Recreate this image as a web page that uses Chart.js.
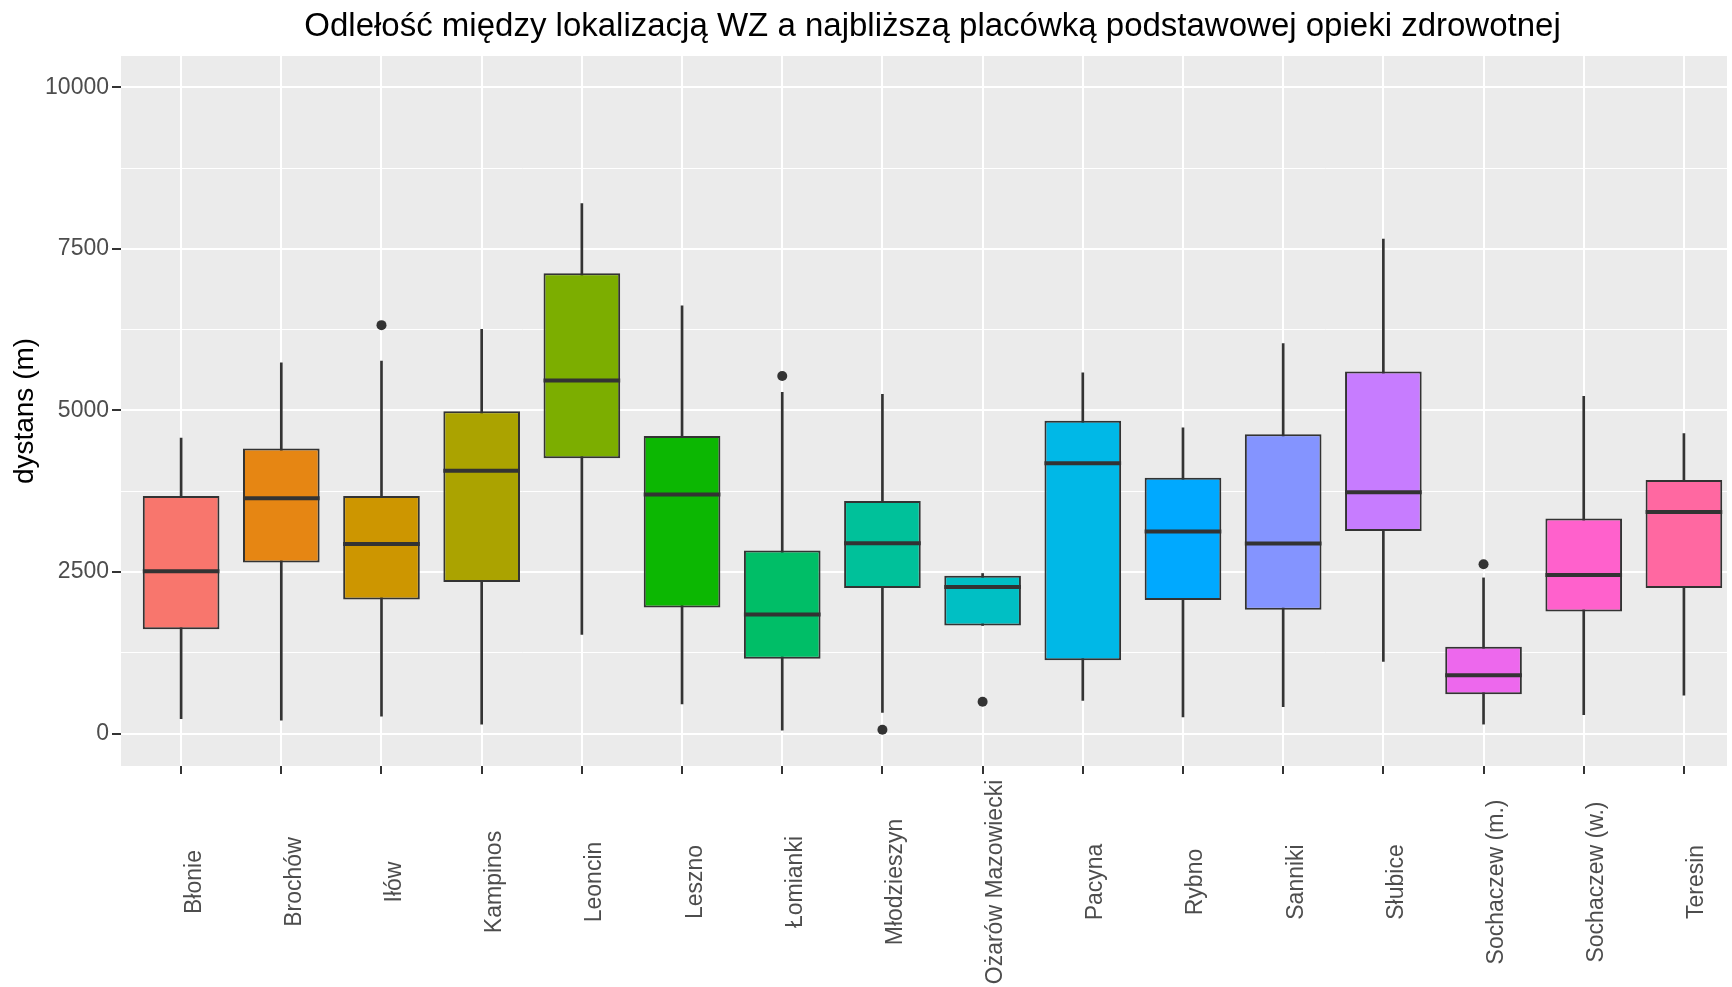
<!DOCTYPE html>
<html>
<head>
<meta charset="utf-8">
<script src="https://cdn.jsdelivr.net/npm/chart.js@4"></script>
<style>
  body { margin: 0; background: #fff; overflow: hidden; }
  #wrap { width: 1732px; height: 987px; }
</style>
</head>
<body>
<div id="wrap"><canvas id="boxChart"></canvas></div>
<script>
const categories = ["Błonie", "Brochów", "Iłów", "Kampinos", "Leoncin", "Leszno", "Łomianki", "Młodzieszyn",
  "Ożarów Mazowiecki", "Pacyna", "Rybno", "Sanniki", "Słubice", "Sochaczew (m.)", "Sochaczew (w.)", "Teresin"];
const whiskerLow  = [232, 206, 268, 144, 1536, 457, 54, 327, 1672, 511, 259, 418, 1116, 146, 294, 596];
const q1          = [1615, 2647, 2074, 2347, 4262, 1950, 1156, 2252, 1672, 1133, 2065, 1916, 3136, 608, 1887, 2254];
const median      = [2512, 3643, 2935, 4065, 5463, 3698, 1844, 2946, 2269, 4184, 3125, 2941, 3735, 904, 2455, 3427];
const q3          = [3678, 4412, 3678, 4989, 7122, 4604, 2833, 3598, 2441, 4841, 3960, 4630, 5602, 1342, 3327, 3924];
const whiskerHigh = [4571, 5737, 5763, 6254, 8200, 6618, 5280, 5249, 2477, 5582, 4731, 6034, 7652, 2409, 5217, 4642];
const outlierCategory = ["Iłów", "Łomianki", "Młodzieszyn", "Ożarów Mazowiecki", "Sochaczew (m.)"];
const outlierValue = [6320, 5534, 60, 492, 2621];
const yTicks = [0, 1250, 2500, 3750, 5000, 6250, 7500, 8750, 10000];
const boxColors = ["#F8766D", "#E68613", "#CD9600", "#ABA300", "#7CAE00", "#0CB702", "#00BE67", "#00C19A",
  "#00BFC4", "#00B8E7", "#00A9FF", "#8494FF", "#C77CFF", "#ED68ED", "#FF61CC", "#FF68A1"];

const FONT = "'Liberation Sans', Arial, sans-serif";
const isMajor = v => v % 2500 === 0;

// ggplot-like panel, medians, title and centred rotated labels
const ggExtras = {
  id: "ggExtras",
  beforeDraw(chart) {
    const { ctx, chartArea: a } = chart;
    ctx.save();
    ctx.fillStyle = "#EBEBEB";
    ctx.fillRect(a.left, a.top, a.right - a.left, a.bottom - a.top);
    ctx.restore();
  },
  afterDatasetsDraw(chart) {
    const { ctx } = chart;
    const y = chart.scales.y;
    const meta = chart.getDatasetMeta(1);
    ctx.save();
    ctx.strokeStyle = "#333333";
    ctx.lineWidth = 4;
    meta.data.forEach((bar, i) => {
      const py = y.getPixelForValue(median[i]);
      ctx.beginPath();
      ctx.moveTo(bar.x - bar.width / 2, py);
      ctx.lineTo(bar.x + bar.width / 2, py);
      ctx.stroke();
    });
    ctx.restore();
  },
  afterDraw(chart) {
    const { ctx, chartArea: a } = chart;
    const x = chart.scales.x;
    ctx.save();
    ctx.fillStyle = "#000";
    ctx.font = "33px " + FONT;
    ctx.textAlign = "center";
    ctx.textBaseline = "middle";
    ctx.fillText("Odlełość między lokalizacją WZ a najbliższą placówką podstawowej opieki zdrowotnej",
      (a.left + x.getPixelForValue(categories.length - 0.4)) / 2, 27);

    ctx.fillStyle = "#4D4D4D";
    ctx.font = "23px " + FONT;
    categories.forEach((c, i) => {
      ctx.save();
      ctx.translate(x.getPixelForValue(i) + 19.5, 882);
      ctx.rotate(-Math.PI / 2);
      ctx.textAlign = "center";
      ctx.textBaseline = "alphabetic";
      ctx.fillText(c, 0, 0);
      ctx.restore();
    });
    ctx.restore();
  }
};

new Chart("boxChart", {
  type: "bar",
  data: {
    datasets: [{
      type: "line",
      data: outlierCategory.map((c, i) => ({ x: categories.indexOf(c), y: outlierValue[i] })),
      showLine: false,
      pointRadius: 5,
      pointBackgroundColor: "#333333",
      pointBorderWidth: 0,
      order: 0
    }, {
      data: categories.map((c, i) => ({ x: i, y: [q1[i], q3[i]] })),
      backgroundColor: boxColors,
      borderColor: "#333333",
      borderWidth: 2,
      borderSkipped: false,
      grouped: false,
      barPercentage: 0.765,
      categoryPercentage: 1,
      order: 1
    }, {
      data: categories.map((c, i) => ({ x: i, y: [whiskerLow[i], whiskerHigh[i]] })),
      backgroundColor: "#333333",
      borderWidth: 0,
      grouped: false,
      barThickness: 2,
      order: 2
    }]
  },
  options: {
    responsive: true,
    maintainAspectRatio: false,
    animation: false,
    layout: { padding: { top: 56, left: 0, right: 0, bottom: 0 } },
    plugins: { legend: { display: false }, tooltip: { enabled: false }, title: { display: false } },
    scales: {
      x: {
        type: "linear",
        offset: false,
        min: -0.6,
        max: 15.43,
        afterBuildTicks: s => { s.ticks = categories.map((c, i) => ({ value: i })); },
        afterFit: s => { s.height = 221; },
        ticks: { display: false },
        grid: { color: "#FFFFFF", lineWidth: 2, tickColor: "#333333", tickLength: 8, tickWidth: 2, offset: false },
        border: { display: false }
      },
      y: {
        min: -502,
        max: 10485,
        afterBuildTicks: s => { s.ticks = yTicks.map(v => ({ value: v })); },
        afterFit: s => { s.width = 121; },
        ticks: {
          autoSkip: false,
          callback: v => isMajor(v) ? String(v) : "",
          font: { size: 23, family: FONT },
          color: "#4D4D4D",
          padding: 3
        },
        grid: {
          color: "#FFFFFF",
          lineWidth: c => (c.tick && isMajor(c.tick.value)) ? 2 : 1,
          tickColor: c => (c.tick && isMajor(c.tick.value)) ? "#333333" : "rgba(0,0,0,0)",
          tickLength: 9,
          tickWidth: 2
        },
        border: { display: false },
        title: {
          display: true,
          text: "dystans (m)",
          color: "#000",
          font: { size: 28, family: FONT },
          padding: { top: 8, bottom: 0 }
        }
      }
    }
  },
  plugins: [ggExtras]
});
</script>
</body>
</html>
